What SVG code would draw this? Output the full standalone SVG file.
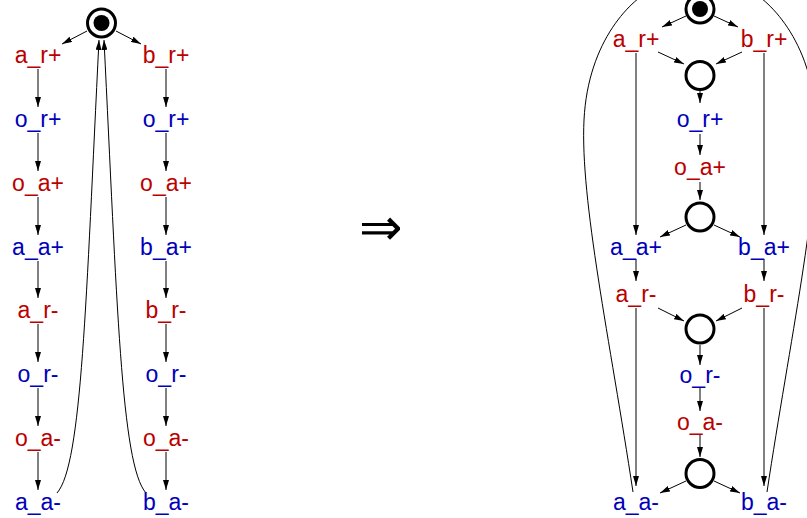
<svg xmlns="http://www.w3.org/2000/svg" width="807" height="518" viewBox="0 0 807 518">
<style>
text{font-family:"Liberation Sans",Arial,sans-serif;font-size:23px;text-anchor:middle}
.r{fill:#bb0000}
.b{fill:#0000bb}
.p{fill:#fff;stroke:#000;stroke-width:3}
.c{fill:none;stroke:#000;stroke-width:1;marker-end:url(#ah)}
.sym{font-family:"DejaVu Sans",sans-serif;font-size:52px;font-weight:200;fill:#000}
</style>
<defs>
<marker id="ah" markerUnits="userSpaceOnUse" markerWidth="10" markerHeight="6" viewBox="0 0 10 6" refX="10" refY="3" orient="auto">
<path d="M0,0 L10,3 L0,6 z" fill="#000"/>
</marker>
</defs>
<rect width="807" height="518" fill="#fff"/>

<g id="connectors">
<!-- left diagram -->
<path class="c" d="M87,31 L62,44"/>
<path class="c" d="M116,31 L141,44"/>
<path class="c" d="M38,69 L38,107"/>
<path class="c" d="M38,133 L38,171"/>
<path class="c" d="M38,197 L38,235"/>
<path class="c" d="M38,261 L38,298"/>
<path class="c" d="M38,324 L38,362"/>
<path class="c" d="M38,388 L38,426"/>
<path class="c" d="M38,452 L38,490"/>
<path class="c" d="M166,69 L166,107"/>
<path class="c" d="M166,133 L166,171"/>
<path class="c" d="M166,197 L166,235"/>
<path class="c" d="M166,261 L166,298"/>
<path class="c" d="M166,324 L166,362"/>
<path class="c" d="M166,388 L166,426"/>
<path class="c" d="M166,452 L166,490"/>
<path class="c" d="M57,493 C82,465 86,300 99,40"/>
<path class="c" d="M146,493 C121,465 117,300 104,40"/>
<!-- right diagram -->
<path class="c" d="M686,16 L662,27"/>
<path class="c" d="M714,16 L738,27"/>
<path class="c" d="M658,52 L684,64"/>
<path class="c" d="M742,52 L716,64"/>
<path class="c" d="M700,91 L700,103"/>
<path class="c" d="M700,134 L700,155"/>
<path class="c" d="M700,182 L700,200"/>
<path class="c" d="M686,225 L660,237"/>
<path class="c" d="M714,225 L740,237"/>
<path class="c" d="M636,53 L636,235"/>
<path class="c" d="M764,53 L764,235"/>
<path class="c" d="M636,259 L636,281"/>
<path class="c" d="M764,259 L764,281"/>
<path class="c" d="M658,308 L684,321"/>
<path class="c" d="M742,308 L716,321"/>
<path class="c" d="M700,345 L700,365"/>
<path class="c" d="M700,388 L700,411"/>
<path class="c" d="M700,435 L700,457"/>
<path class="c" d="M686,481 L660,493"/>
<path class="c" d="M714,481 L740,493"/>
<path class="c" d="M636,308 L636,486"/>
<path class="c" d="M764,308 L764,486"/>
<path class="c" d="M633,492 C610,340 580,200 584,120 C588,40 632,-2 655,-12 C668,-15 680,-8 688,0"/>
<path class="c" d="M767,492 C790,340 820,200 816,120 C812,40 768,-2 745,-12 C732,-15 720,-8 712,0"/>
</g>

<!-- left diagram nodes -->
<g id="L_p0"><circle class="p" cx="101.5" cy="23" r="14"/><circle cx="101.5" cy="23" r="8" fill="#000"/></g>
<g id="L_a_r_plus"><text class="r" x="38" y="63">a_r+</text></g>
<g id="L_o_r_plus_a"><text class="b" x="38" y="127">o_r+</text></g>
<g id="L_o_a_plus_a"><text class="r" x="38" y="191">o_a+</text></g>
<g id="L_a_a_plus"><text class="b" x="38" y="255">a_a+</text></g>
<g id="L_a_r_minus"><text class="r" x="38" y="318">a_r-</text></g>
<g id="L_o_r_minus_a"><text class="b" x="38" y="382">o_r-</text></g>
<g id="L_o_a_minus_a"><text class="r" x="38" y="446">o_a-</text></g>
<g id="L_a_a_minus"><text class="b" x="38" y="510">a_a-</text></g>
<g id="L_b_r_plus"><text class="r" x="166" y="63">b_r+</text></g>
<g id="L_o_r_plus_b"><text class="b" x="166" y="127">o_r+</text></g>
<g id="L_o_a_plus_b"><text class="r" x="166" y="191">o_a+</text></g>
<g id="L_b_a_plus"><text class="b" x="166" y="255">b_a+</text></g>
<g id="L_b_r_minus"><text class="r" x="166" y="318">b_r-</text></g>
<g id="L_o_r_minus_b"><text class="b" x="166" y="382">o_r-</text></g>
<g id="L_o_a_minus_b"><text class="r" x="166" y="446">o_a-</text></g>
<g id="L_b_a_minus"><text class="b" x="166" y="510">b_a-</text></g>

<g id="implies"><text class="sym" x="381" y="245">⇒</text></g>

<!-- right diagram nodes -->
<g id="R_p0"><circle class="p" cx="700" cy="9" r="14"/><circle cx="700" cy="9" r="8" fill="#000"/></g>
<g id="R_a_r_plus"><text class="r" x="636" y="47">a_r+</text></g>
<g id="R_b_r_plus"><text class="r" x="764" y="47">b_r+</text></g>
<g id="R_p1"><circle class="p" cx="700" cy="75.5" r="14"/></g>
<g id="R_o_r_plus"><text class="b" x="700" y="127">o_r+</text></g>
<g id="R_o_a_plus"><text class="r" x="700" y="175">o_a+</text></g>
<g id="R_p2"><circle class="p" cx="700" cy="217" r="14"/></g>
<g id="R_a_a_plus"><text class="b" x="636" y="255">a_a+</text></g>
<g id="R_b_a_plus"><text class="b" x="764" y="255">b_a+</text></g>
<g id="R_a_r_minus"><text class="r" x="636" y="302">a_r-</text></g>
<g id="R_b_r_minus"><text class="r" x="764" y="302">b_r-</text></g>
<g id="R_p3"><circle class="p" cx="700" cy="329" r="14"/></g>
<g id="R_o_r_minus"><text class="b" x="700" y="383">o_r-</text></g>
<g id="R_o_a_minus"><text class="r" x="700" y="430">o_a-</text></g>
<g id="R_p4"><circle class="p" cx="700" cy="473.5" r="14"/></g>
<g id="R_a_a_minus"><text class="b" x="636" y="510">a_a-</text></g>
<g id="R_b_a_minus"><text class="b" x="764" y="510">b_a-</text></g>
</svg>
